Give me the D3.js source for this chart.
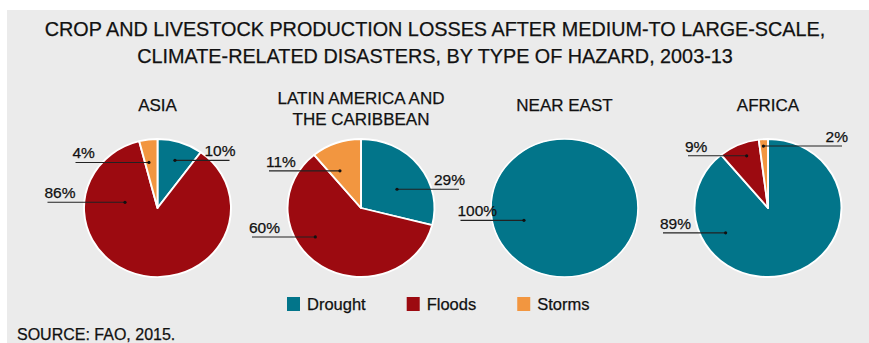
<!DOCTYPE html>
<html>
<head>
<meta charset="utf-8">
<script src="https://cdn.jsdelivr.net/npm/d3@7"></script>
<style>
  body { margin: 0; background: #fff; }
  svg text { font-family: "Liberation Sans", Arial, sans-serif; fill: #111; stroke: #111; stroke-width: 0.25px; }
</style>
</head>
<body>
<svg id="chart" width="869" height="343"></svg>
<script>
// data
const regions = ["ASIA", "LATIN AMERICA AND|THE CARIBBEAN", "NEAR EAST", "AFRICA"];
const hazards = ["Drought", "Floods", "Storms"];
const drought = [10, 29, 100, 89];
const floods  = [86, 60, 0, 9];
const storms  = [4, 11, 0, 2];
const titleLines = [
  "CROP AND LIVESTOCK PRODUCTION LOSSES AFTER MEDIUM-TO LARGE-SCALE,",
  "CLIMATE-RELATED DISASTERS, BY TYPE OF HAZARD, 2003-13"
];
const source = "SOURCE: FAO, 2015.";

// leader label placement per region / hazard: angle (deg), radius fraction, end of leader (px from centre)
const labelLayout = [
  [{a: 19, r: .73, end: 72}, {a: 280.6, r: .45, end: -110}, {a: 350, r: .67, end: -82}],
  [{a: 61, r: .56, end: 98}, {a: 236, r: .75, end: -109}, {a: 332, r: .61, end: -92}],
  [{a: 252, r: .58, end: -104}, null, null],
  [{a: 238, r: .68, end: -105}, {a: 339, r: .81, end: -80}, {a: 356, r: .9, end: 74}]
];

const width = 869, height = 343;
const radius = 69, stretch = 1.065, cy = 208;

const svg = d3.select("#chart");

const color = d3.scaleOrdinal()
  .domain(hazards)
  .range(["#02758a", "#9c0a10", "#f29640"]);

const xPos = d3.scalePoint()
  .domain(regions)
  .range([157.5, 768]);

// panel background
svg.append("rect")
  .attr("x", 7).attr("y", 10)
  .attr("width", width - 7).attr("height", height - 10)
  .attr("fill", "#ebebeb");

// title
svg.selectAll(".title")
  .data(titleLines)
  .enter().append("text")
  .attr("class", "title")
  .attr("x", 435)
  .attr("y", (d, i) => 36 + i * 27)
  .attr("text-anchor", "middle")
  .style("font-size", "19.8px")
  .text(d => d);

const pie = d3.pie().sort(null).value(d => d.value);
const arc = d3.arc().innerRadius(0).outerRadius(radius);

regions.forEach((region, i) => {
  const cx = xPos(region);
  const values = [drought[i], floods[i], storms[i]];
  const slices = pie(hazards.map((h, k) => ({hazard: h, value: values[k], k})));

  // region name
  const nameLines = region.split("|");
  svg.append("text")
    .attr("x", cx)
    .attr("y", nameLines.length > 1 ? 104 : 111)
    .attr("text-anchor", "middle")
    .style("font-size", "17px")
    .selectAll("tspan")
    .data(nameLines)
    .enter().append("tspan")
    .attr("x", cx)
    .attr("dy", (d, j) => j === 0 ? 0 : 21)
    .text(d => d);

  const g = svg.append("g")
    .attr("transform", `translate(${cx},${cy}) scale(${stretch},1)`);

  if (slices.filter(s => s.value > 0).length === 1) {
    g.append("circle")
      .attr("r", radius)
      .attr("fill", color(slices.find(s => s.value > 0).data.hazard))
      .attr("stroke", "#fff")
      .attr("stroke-width", 1.5);
  } else {
    g.selectAll("path")
      .data(slices.filter(s => s.value > 0))
      .enter().append("path")
      .attr("d", arc)
      .attr("fill", d => color(d.data.hazard))
      .attr("stroke", "#fff")
      .attr("stroke-width", 1.8)
      .attr("stroke-linejoin", "round");
  }

  // leader labels
  slices.forEach((s, k) => {
    const lay = labelLayout[i][k];
    if (!lay || s.value <= 0) return;
    const p = d3.pointRadial(lay.a * Math.PI / 180, lay.r * radius);
    const dx = cx + p[0] * stretch;
    const dy = cy + p[1];
    const ex = cx + lay.end;
    const right = lay.end > 0;

    svg.append("line")
      .attr("x1", dx).attr("y1", dy)
      .attr("x2", ex).attr("y2", dy)
      .attr("stroke", "#222")
      .attr("stroke-width", 1.1);
    svg.append("circle")
      .attr("cx", dx).attr("cy", dy)
      .attr("r", 1.6)
      .attr("fill", "#111");
    svg.append("text")
      .attr("x", right ? ex + 6 : ex - 3)
      .attr("y", dy - 4)
      .attr("text-anchor", right ? "end" : "start")
      .style("font-size", "15.5px")
      .text(s.value + "%");
  });
});

// legend
const legend = svg.append("g").attr("transform", "translate(287,304)");
let lx = 0;
hazards.forEach(h => {
  const item = legend.append("g").attr("transform", `translate(${lx},0)`);
  item.append("rect")
    .attr("x", 0).attr("y", -7)
    .attr("width", 13).attr("height", 14)
    .attr("fill", color(h));
  const t = item.append("text")
    .attr("x", 20).attr("y", 6)
    .style("font-size", "16.5px")
    .text(h);
  lx += 20 + t.node().getComputedTextLength() + 41;
});

// source
svg.append("text")
  .attr("x", 17)
  .attr("y", 340)
  .style("font-size", "16px")
  .text(source);
</script>
</body>
</html>
